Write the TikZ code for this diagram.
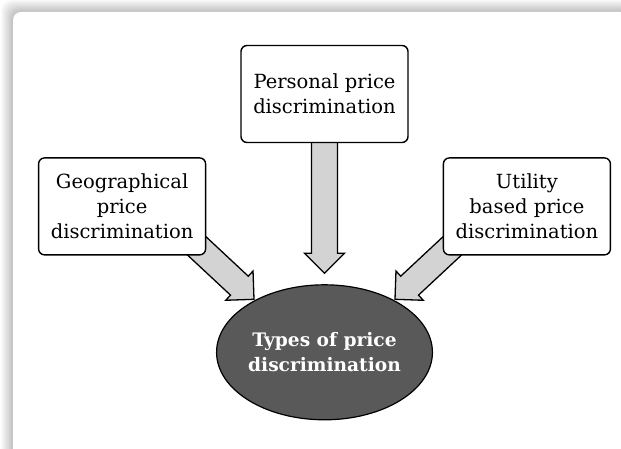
\documentclass[tikz,border=0pt]{standalone}
\usepackage{fontspec}
\setmainfont{DejaVu Serif}
\usetikzlibrary{positioning,calc,backgrounds,shapes.geometric}
\definecolor{arrowgray}{HTML}{D3D3D3}
\definecolor{ovalgray}{HTML}{595959}

\begin{document}
\begin{tikzpicture}[x=1pt, y=-1pt,
  node distance=14pt and 34pt,
  box/.style={draw, rounded corners=6pt, line width=1.4pt, fill=white, align=center,
              font=\fontsize{19.5}{25}\selectfont, minimum width=167pt,
              minimum height=97pt, inner sep=2pt},
  hubnode/.style={draw, ellipse, line width=1.2pt, fill=ovalgray, text=white, align=center,
              font=\fontsize{18.6}{25}\selectfont\bfseries, minimum width=181pt,
              minimum height=135pt, inner sep=0pt},
  blockarr/.style={draw=black, line width=1.3pt, fill=arrowgray, line join=miter,
    to path={($(\tikztostart)!13pt!90:(\tikztotarget)$)
      -- ($(\tikztotarget)!23.85pt!-33.02:(\tikztostart)$)
      -- ($(\tikztotarget)!28.28pt!-45:(\tikztostart)$)
      -- (\tikztotarget)
      -- ($(\tikztotarget)!28.28pt!45:(\tikztostart)$)
      -- ($(\tikztotarget)!23.85pt!33.02:(\tikztostart)$)
      -- ($(\tikztostart)!13pt!-90:(\tikztotarget)$) -- cycle}}]
  \useasboundingbox (0,0) rectangle (621,449);
  \begin{scope}[on background layer]
    \fill[white] (0,0) rectangle (621,449);
    \foreach \i in {1,...,12}
      \fill[black, opacity=0.02, rounded corners=10pt] (13-\i,12-\i) rectangle (640,480);
    \fill[white, rounded corners=8pt] (13,12) rectangle (628,470);
  \end{scope}
  \node[box] (pers) at (324.5,94) {Personal price\\discrimination};
  \node[box, below left=of pers] (geo) {Geographical\\price\\discrimination};
  \node[box, below right=of pers] (util) {Utility\\based price\\discrimination};
  \node[hubnode, below=141pt of pers] (hub) {Types of price\\discrimination};
  \coordinate (pers-out) at ([yshift=4pt]pers.south);
  \coordinate (geo-out) at ([shift={(-12pt,12pt)}]geo.south east);
  \coordinate (util-out) at ([shift={(12pt,12pt)}]util.south west);
  \coordinate (pers-in) at ([yshift=11pt]hub.north);
  \coordinate (geo-in) at ([shift={(-70.5pt,53pt)}]hub.center);
  \coordinate (util-in) at ([shift={(70.5pt,53pt)}]hub.center);
  \begin{scope}[on background layer]
    \draw[blockarr] (pers-out) to (pers-in);
    \draw[blockarr] (geo-out) to (geo-in);
    \draw[blockarr] (util-out) to (util-in);
  \end{scope}
\end{tikzpicture}
\end{document}
